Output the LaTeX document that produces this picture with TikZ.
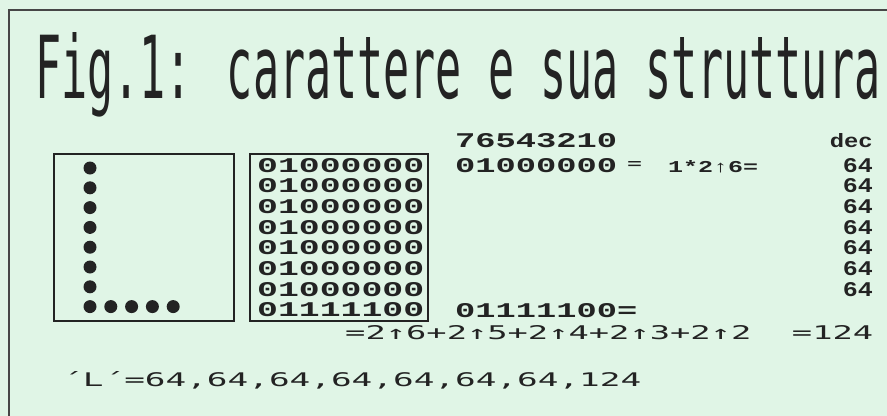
\documentclass[tikz,border=0pt]{standalone}
\usepackage{fontspec}
\usepackage{graphicx}
\usepackage{xcolor}
\newfontfamily\titlefont{DejaVu Sans Mono}
\newfontfamily\printfont{Liberation Mono}
\newfontfamily\plainfont{DejaVu Sans Mono}
\definecolor{paper}{RGB}{224,245,230}
\definecolor{ink}{RGB}{35,35,35}
\definecolor{grayink}{RGB}{70,70,70}
\newlength\pxunit
\setlength\pxunit{0.03cm}
\newcommand{\fit}[3]{\resizebox{#1\pxunit}{#2\pxunit}{#3}}
\newcommand{\prt}[1]{{\printfont\bfseries #1}}

\begin{document}
\begin{tikzpicture}[x=0.03cm, y=-0.03cm,
		txt/.style={anchor=base west, inner sep=0pt, text=ink},
		txtr/.style={anchor=base east, inner sep=0pt, text=ink},
		frame/.style={draw=grayink, line width=1.5pt},
		gridbox/.style={draw=ink, line width=1.5pt},
		pixel/.style={fill=ink, draw=none}]
			\useasboundingbox (0,0) rectangle (887,416);
			\fill[paper] (0,0) rectangle (887,416);
			% Page frame
			\draw[frame] (9,416) -- (9,10) -- (887,10);
			% Title
			\node[txt] (title) at (35,98) {\fit{845}{66}{\titlefont Fig.1: carattere e sua struttura}};
			% Header of bit columns
			\node[txt] (bits) at (455,147) {\fit{162}{14}{\prt{76543210}}};
			\node[txtr] (dec) at (873,147) {\fit{43}{14}{\prt{dec}}};
			% Character cell and its byte grid
			\draw[gridbox] (54,154) rectangle (234,321);
			\draw[gridbox] (250,154) rectangle (428,321);
			\foreach \r in {0,...,7}{
				\fill[pixel] (90,{168+19.8*\r}) circle (6.5);
			}
			\foreach \c in {1,...,4}{
				\fill[pixel] ({90+20.8*\c},306.6) circle (6.5);
			}
			\foreach \r/\bits in {0/01000000, 1/01000000, 2/01000000, 3/01000000, 4/01000000, 5/01000000, 6/01000000, 7/01111100}{
				\node[txt] (row\r) at (257,{172+20.7*\r}) {\fit{167}{14}{\prt{\bits}}};
			}
			% Decimal values
			\node[txt] (first) at (455,172) {\fit{162}{14}{\prt{01000000}}};
			\node[txt] (eq) at (627,168.5) {\fit{15}{7}{\prt{=}}};
			\node[txt] (pow) at (668,172) {\fit{90}{12}{\prt{1*2↑6=}}};
			\foreach \r in {0,...,6}{
				\node[txtr] (val\r) at (873,{172+20.7*\r}) {\fit{30}{14}{\prt{64}}};
			}
			\node[txt] (last) at (455,317) {\fit{182}{14}{\prt{01111100=}}};
			\node[txt] (sum) at (345,339) {\fit{528}{14}{\plainfont =2↑6+2↑5+2↑4+2↑3+2↑2 \ =124}};
			% Resulting data line
			\node[txt] (data) at (62,386) {\fit{579}{15}{\plainfont ´L´=64,64,64,64,64,64,64,124}};
		\end{tikzpicture}
\end{document}
